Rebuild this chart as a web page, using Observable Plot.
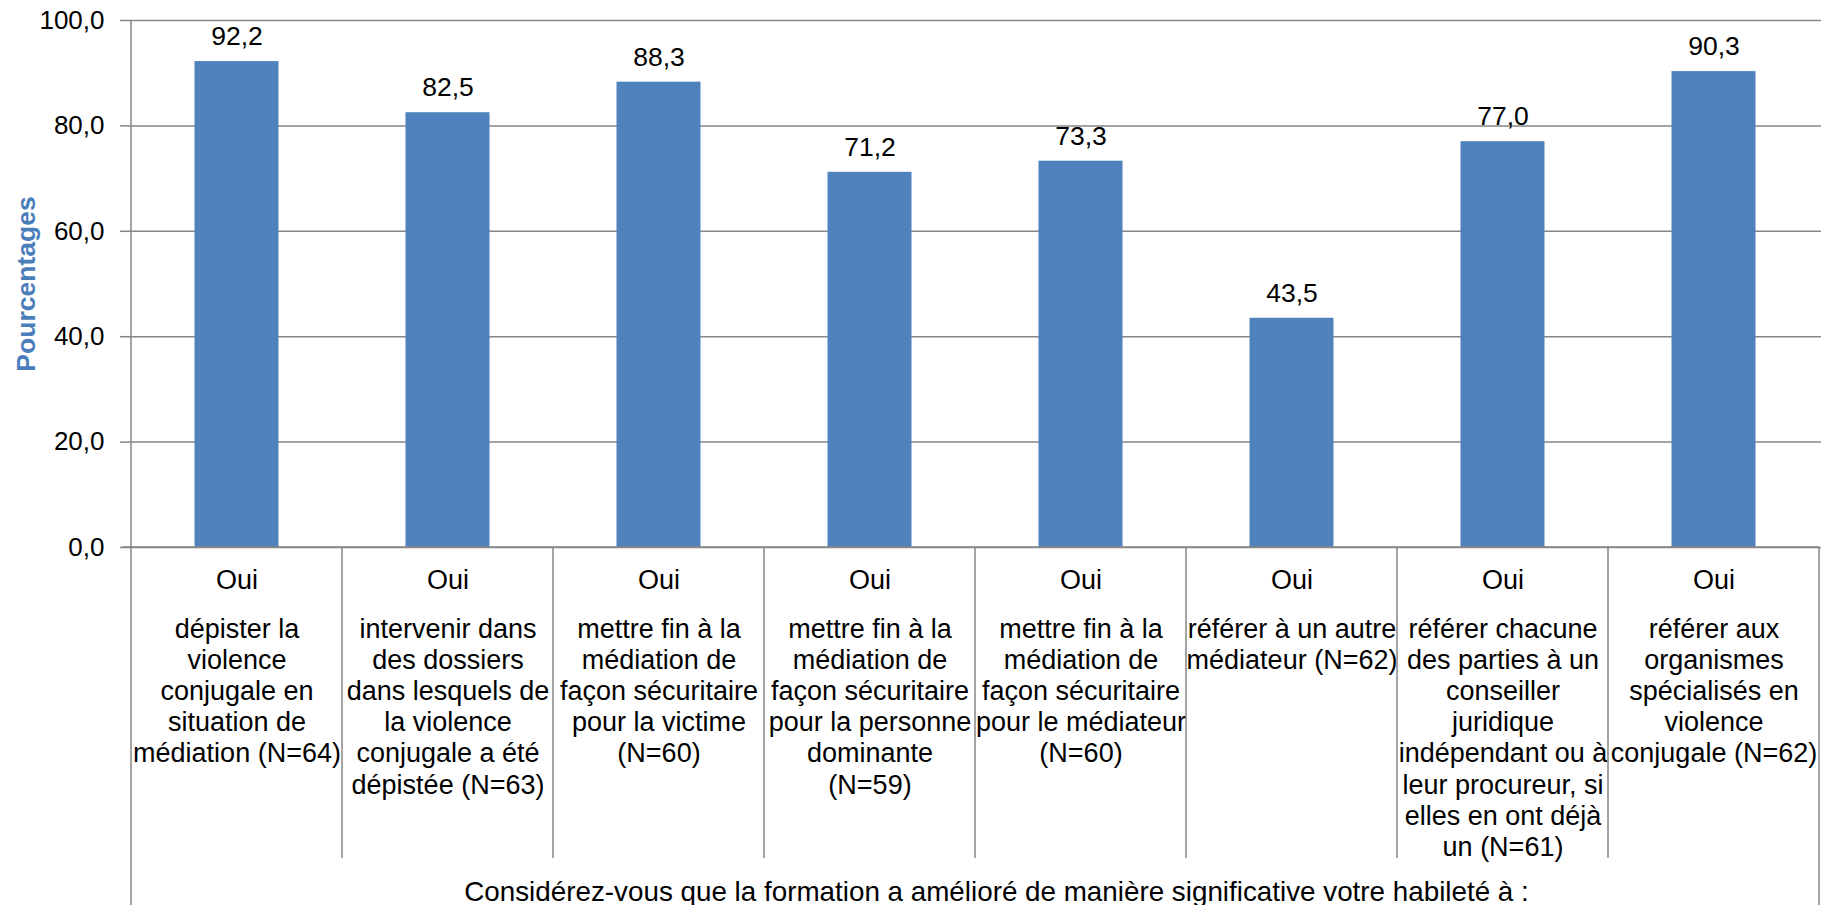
<!DOCTYPE html>
<html>
<head>
<meta charset="utf-8">
<script src="https://cdn.jsdelivr.net/npm/d3@7"></script>
<script src="https://cdn.jsdelivr.net/npm/@observablehq/plot@0.6"></script>
<style>
  html, body { margin: 0; padding: 0; background: #fff; }
  #chart svg { display: block; }
</style>
</head>
<body>
<div id="chart"></div>
<script>
// ---- data ----
const labels = [
  "dépister la\nviolence\nconjugale en\nsituation de\nmédiation (N=64)",
  "intervenir dans\ndes dossiers\ndans lesquels de\nla violence\nconjugale a été\ndépistée (N=63)",
  "mettre fin à la\nmédiation de\nfaçon sécuritaire\npour la victime\n(N=60)",
  "mettre fin à la\nmédiation de\nfaçon sécuritaire\npour la personne\ndominante\n(N=59)",
  "mettre fin à la\nmédiation de\nfaçon sécuritaire\npour le médiateur\n(N=60)",
  "référer à un autre\nmédiateur (N=62)",
  "référer chacune\ndes parties à un\nconseiller\njuridique\nindépendant ou à\nleur procureur, si\nelles en ont déjà\nun (N=61)",
  "référer aux\norganismes\nspécialisés en\nviolence\nconjugale (N=62)"
];
const answers = ["Oui", "Oui", "Oui", "Oui", "Oui", "Oui", "Oui", "Oui"];
const values = [92.2, 82.5, 88.3, 71.2, 73.3, 43.5, 77.0, 90.3];
const yTicks = [0, 20, 40, 60, 80, 100];
const yLabel = "Pourcentages";
const caption = "Considérez-vous que la formation a amélioré de manière significative votre habileté à :";

const data = labels.map((label, i) => ({label, answer: answers[i], value: values[i]}));
const fmt = d => d.toFixed(1).replace(".", ",");

const W = 1832, H = 905;
const gray = "#868686";

const plot = Plot.plot({
  width: W,
  height: H,
  marginLeft: 129,
  marginRight: 11,
  marginTop: 20,
  marginBottom: 358,
  style: {
    fontFamily: "'Liberation Sans', Arial, sans-serif",
    fontSize: "26px",
    color: "#000",
    background: "#fff",
    overflow: "visible"
  },
  x: {domain: labels, padding: 0, axis: null},
  y: {domain: [0, 100], axis: null},
  marks: [
    Plot.gridY(yTicks, {stroke: gray, strokeOpacity: 1, strokeWidth: 1.5}),
    Plot.axisY(yTicks, {
      tickSize: 9, tickPadding: 16, tickFormat: fmt,
      fontSize: 26, stroke: gray, strokeWidth: 1.5, label: null, fill: "#000"
    }),
    Plot.barY(data, {x: "label", y: "value", fill: "#4F81BD", insetLeft: 63.5, insetRight: 63.5}),
    Plot.text(data, {x: "label", y: "value", text: d => fmt(d.value), dy: -25, lineAnchor: "middle", fontSize: 26.5, fill: "#000"}),
    Plot.text(data, {x: "label", text: "answer", frameAnchor: "bottom", lineAnchor: "top", dy: 22, fontSize: 27, fill: "#000"}),
    Plot.text(data, {x: "label", text: "label", frameAnchor: "bottom", lineAnchor: "top", dy: 68, lineHeight: 1.155, fontSize: 27, fill: "#000"}),
    Plot.text([caption], {text: d => d, frameAnchor: "bottom", lineAnchor: "top", dy: 334, dx: 21, fontSize: 27.8, fill: "#000"}),
    Plot.text([yLabel], {text: d => d, frameAnchor: "left", textAnchor: "middle", lineAnchor: "middle", rotate: -90, dx: -103, fontSize: 26.5, fontWeight: "bold", fill: "#4A7EBB"})
  ]
});

// category table lines below the plot, positioned with Plot's own scales
const xs = plot.scale("x");
const ys = plot.scale("y");
const y0 = ys.apply(0);
const yTop = ys.apply(100);
const g = d3.select(plot).append("g").attr("stroke", gray).attr("stroke-width", 1.5);
// bottom axis line (0,0) extended to tick
g.append("line").attr("x1", xs.apply(labels[0]) - 9).attr("x2", xs.apply(labels[labels.length - 1]) + xs.bandwidth).attr("y1", y0).attr("y2", y0);
// left axis line
g.append("line").attr("x1", xs.apply(labels[0])).attr("x2", xs.apply(labels[0])).attr("y1", yTop).attr("y2", H);
// right border
const xr = xs.apply(labels[labels.length - 1]) + xs.bandwidth;
g.append("line").attr("x1", xr).attr("x2", xr).attr("y1", y0).attr("y2", H);
// dividers between categories
labels.slice(1).forEach(l => {
  const xv = xs.apply(l);
  g.append("line").attr("x1", xv).attr("x2", xv).attr("y1", y0).attr("y2", 858);
});

document.getElementById("chart").appendChild(plot);
</script>
</body>
</html>
